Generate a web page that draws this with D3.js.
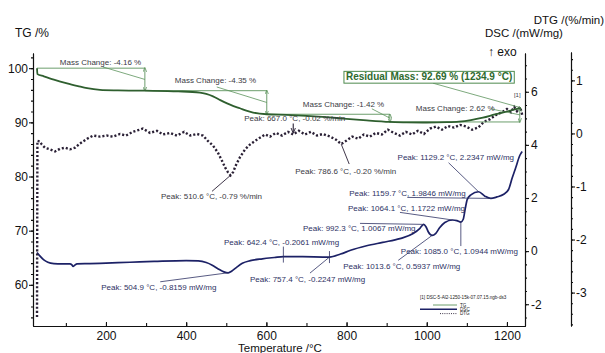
<!DOCTYPE html>
<html>
<head>
<meta charset="utf-8">
<script src="https://cdn.jsdelivr.net/npm/d3@7"></script>
<style>
  body { margin: 0; background: #fff; }
  svg { display: block; font-family: "Liberation Sans", Arial, sans-serif; }
</style>
</head>
<body>
<svg id="chart" width="605" height="353"></svg>
<script>
// ---- measured curves: [temperature °C, value] ----
const tgCurve = [
  [28,100],[29,98.9],[45,98.5],[70,97.9],[103,97.2],[130,96.7],[153,96.3],[185,96.0],
  [230,95.9],[297,95.84],[380,95.72],[434,95.5],[450,95.25],[467,94.8],[485,94.1],
  [502,93.5],[518,93.0],[534,92.6],[550,92.15],[567,91.8],[601,91.49],[650,91.38],
  [700,91.2],[750,90.95],[800,90.65],[850,90.35],[908,90.07],[950,89.98],[1000,89.97],
  [1050,90.02],[1080,90.12],[1110,90.4],[1140,90.85],[1170,91.45],[1200,92.0],
  [1220,92.4],[1234.9,92.69]
];

const dscCurve = [
  [28,-0.05],[35,-0.18],[45,-0.33],[55,-0.42],[70,-0.47],[90,-0.48],[110,-0.48],
  [115,-0.52],[118,-0.58],[122,-0.53],[128,-0.48],[160,-0.47],[200,-0.45],[260,-0.42],
  [320,-0.39],[400,-0.36],[430,-0.37],[450,-0.43],[465,-0.53],[480,-0.67],[494,-0.78],
  [504.9,-0.8159],[514,-0.75],[525,-0.62],[540,-0.46],[560,-0.36],[590,-0.29],
  [620,-0.24],[642.4,-0.2061],[690,-0.21],[757.4,-0.2247],[785,-0.11],[810,0.03],
  [850,0.2],[890,0.33],[933,0.47],[966,0.66],[983,0.86],[992.3,1.0067],[998,0.92],
  [1004,0.72],[1013.6,0.5937],[1022,0.66],[1032,0.88],[1045,1.08],[1064.1,1.1722],
  [1075,1.15],[1085.0,1.0944],[1091,1.2],[1096,1.6],[1101,1.95],[1110,2.12],
  [1129.2,2.2347],[1145,2.07],[1159.7,1.9846],[1175,2.04],[1192,2.14],[1204,2.32],
  [1213,2.75],[1222,3.15],[1232,3.6],[1238,3.75]
];

const dtgCurve = [
  [28,-3.46],[29,-0.14],[35,-0.15],[40,-0.21],[48,-0.27],[60,-0.30],[73,-0.34],[85,-0.29],
  [98,-0.27],[110,-0.30],[123,-0.27],[135,-0.19],[153,-0.10],[168,-0.04],[185,-0.06],
  [202,-0.04],[217,-0.06],[235,-0.01],[250,-0.04],[267,0.03],[292,0.09],[310,0.01],
  [327,0.05],[342,-0.02],[360,0.01],[377,-0.04],[395,0.03],[410,-0.04],[427,-0.01],
  [442,-0.04],[454,-0.14],[467,-0.23],[479,-0.36],[489,-0.51],[497,-0.64],[504,-0.73],
  [510.6,-0.79],[517,-0.73],[524,-0.60],[534,-0.45],[547,-0.30],[559,-0.21],[572,-0.14],
  [584,-0.08],[597,-0.02],[609,-0.06],[624,0.01],[639,-0.04],[654,0.03],[667.0,-0.02],
  [681,0.05],[696,-0.02],[711,0.03],[726,-0.04],[741,-0.01],[759,-0.06],[774,-0.12],
  [786.6,-0.20],[799,-0.14],[814,-0.06],[829,-0.10],[843,-0.02],[858,-0.06],[873,0.01],
  [888,-0.02],[903,0.07],[918,0.01],[933,-0.04],[948,0.03],[963,-0.02],[978,0.05],
  [993,-0.01],[1008,0.09],[1023,0.13],[1038,0.07],[1053,0.14],[1068,0.11],[1083,0.16],
  [1098,0.13],[1113,0.07],[1128,0.11],[1143,0.22],[1158,0.27],[1173,0.35],[1188,0.40],
  [1200,0.46],[1210,0.40],[1218,0.50],[1225,0.42],[1233,0.50],[1238,0.35]
];

// ---- axis ticks ----
const tempTicks = [200, 400, 600, 800, 1000, 1200];
const tgTicks = [60, 70, 80, 90, 100];
const dscTicks = [-2, 0, 2, 4, 6];
const dtgTicks = [-3, -2, -1, 0, 1];

// ---- evaluation results ----
// mass-change steps: [start °C, end °C, change %]
const massSteps = [[28, 297, -4.16], [297, 601, -4.35], [601, 908, -1.42], [908, 1232, 2.62]];
const residualTemp = 1234.9;
const dtgPeakTemps = [510.6, 667.0, 786.6];
const dscPeakTemps = [504.9, 642.4, 757.4, 992.3, 1013.6, 1064.1, 1085.0, 1129.2, 1159.7];
const legendTitle = "[1] DSC-5-Al2-1250-15k-07.07.15.ngb-ds3";
const legendNames = ["TG", "DSC", "DTG"];

// ---- label placement (pixel offsets from the annotated point) ----
const massLabelLayout = [
  { dx: -85, dy: -14.5, lead: [-42, -12.5] },
  { dx: -92, dy: -19.5, lead: [-50, -15.5] },
  { dx: -87, dy: -11.3, lead: [-18, -9.3] },
  { dx: -104, dy: -4, lead: [-29, -6] }
];
const dtgLabelLayout = [
  { dx: -69.5, dy: 24, lead: [[-18.5, 16], [0, 0]] },
  { dx: -49, dy: -13, lead: [[0, -11], [0, -2]], arrow: true },
  { dx: -46, dy: 29.6, lead: [[8, 20], [0, 0]] }
];
const dscLabelLayout = [
  { dx: -127, dy: 17, lead: [[-68, 9], [0, 0]] },
  { dx: -59.4, dy: -11.7, lead: [[0, -10], [0, 6]] },
  { dx: -79.5, dy: 25, lead: [[-19.5, 16], [0, 0]], tick: true },
  { dx: -120.7, dy: 7, lead: [[-63.7, -1], [0, 0]] },
  { dx: -89, dy: 34, lead: [[-34, 25], [0, 0]] },
  { dx: -104.5, dy: -8.6, lead: [[-52.5, -7.6], [0, 0]] },
  { dx: -60, dy: 32, lead: [[0, 24], [0, -1]] },
  { dx: -81, dy: -32, lead: [[-30, -29], [0, 0]] },
  { dx: -141.5, dy: -2, lead: [[-83.5, -1], [0, 0]] }
];

const C = {
  tg: "#2f5f2f", tgNote: "#5c935c", dsc: "#1c2166", dtg: "#2a2035",
  text: "#3a3a44", dscText: "#2d3163", axis: "#111"
};

const svg = d3.select("#chart");

const x = d3.scaleLinear().domain([18, 1245]).range([33, 525]);
const yTG = d3.scaleLinear().domain([52.4, 102.8]).range([326, 53]);
const yDSC = d3.scaleLinear().domain([-2.82, 7.46]).range([326, 53]);
const yDTG = d3.scaleLinear().domain([-3.63, 1.535]).range([326, 52]);

const fmt = d => String(d);

// arrow markers
const defs = svg.append("defs");
[["arrG", C.tgNote], ["arrK", C.dtg]].forEach(([id, col]) => {
  defs.append("marker").attr("id", id).attr("viewBox", "0 0 6 6")
    .attr("refX", 5).attr("refY", 3).attr("markerWidth", 5).attr("markerHeight", 5)
    .attr("orient", "auto-start-reverse")
    .append("path").attr("d", "M0,0.6 L6,3 L0,5.4").attr("fill", "none")
    .attr("stroke", col).attr("stroke-width", 1);
});

// ---- axes ----
function styleAxis(g) {
  g.selectAll("path,line").attr("stroke", C.axis).attr("stroke-width", 1.1);
  g.selectAll("text").attr("fill", "#111").attr("font-size", 12)
    .attr("font-family", '"Liberation Sans", Arial, sans-serif');
}

// bottom
svg.append("g").attr("transform", "translate(0,326)")
  .call(d3.axisBottom(x).tickValues(d3.range(100, 1245, 100)).tickSize(-3).tickSizeOuter(0).tickFormat(""))
  .call(styleAxis);
svg.append("g").attr("transform", "translate(0,326)")
  .call(d3.axisBottom(x).tickValues(tempTicks).tickSize(-4).tickSizeOuter(0).tickPadding(5).tickFormat(fmt))
  .call(styleAxis);

// left TG
svg.append("g").attr("transform", "translate(33,0)")
  .call(d3.axisLeft(yTG).tickValues(d3.range(54, 103, 2)).tickSize(2).tickSizeOuter(0).tickFormat(""))
  .call(styleAxis);
svg.append("g").attr("transform", "translate(33,0)")
  .call(d3.axisLeft(yTG).tickValues(tgTicks).tickSize(4).tickSizeOuter(0).tickPadding(1).tickFormat(fmt))
  .call(styleAxis);

// right DSC
svg.append("g").attr("transform", "translate(525,0)")
  .call(d3.axisRight(yDSC).tickValues(d3.range(-2.5, 7.3, 0.5)).tickSize(2).tickSizeOuter(0).tickFormat(""))
  .call(styleAxis);
svg.append("g").attr("transform", "translate(525,0)")
  .call(d3.axisRight(yDSC).tickValues(dscTicks).tickSize(4).tickSizeOuter(0).tickPadding(2).tickFormat(fmt))
  .call(styleAxis);

// right DTG
svg.append("g").attr("transform", "translate(571,0)")
  .call(d3.axisRight(yDTG).tickValues(d3.range(-3.6, 1.5, 0.2)).tickSize(2).tickSizeOuter(0).tickFormat(""))
  .call(styleAxis);
svg.append("g").attr("transform", "translate(571,0)")
  .call(d3.axisRight(yDTG).tickValues(dtgTicks).tickSize(4).tickSizeOuter(0).tickPadding(1).tickFormat(fmt))
  .call(styleAxis);

// axis titles
const title = (t, px, py, anchor, fs) => svg.append("text").text(t).attr("x", px).attr("y", py)
  .attr("font-size", fs || 12).attr("fill", "#111").attr("text-anchor", anchor || "start");
title("TG /%", 15, 37);
title("DTG /(%/min)", 604, 24, "end", 11.5);
title("DSC /(mW/mg)", 485, 37, "start", 11.5);
title("\u2191 exo", 488, 56);
title("Temperature /\u00b0C", 280, 352, "middle", 11.5);

// ---- curves ----
const lineTG = d3.line().x(d => x(d[0])).y(d => yTG(d[1])).curve(d3.curveMonotoneX);
const lineDSC = d3.line().x(d => x(d[0])).y(d => yDSC(d[1])).curve(d3.curveMonotoneX);
const lineDTG = d3.line().x(d => x(d[0])).y(d => yDTG(d[1]));

svg.append("path").datum(dscCurve).attr("d", lineDSC)
  .attr("fill", "none").attr("stroke", C.dsc).attr("stroke-width", 1.7);
svg.append("path").datum(dtgCurve).attr("d", lineDTG)
  .attr("fill", "none").attr("stroke", C.dtg).attr("stroke-width", 2.4)
  .attr("stroke-dasharray", "2.1 2.0");

// ---- TG mass-change annotations ----
let level = 100;
const noteG = svg.append("g");
massSteps.forEach(([t0, t1, ch], i) => {
  const a = level, b = +(level + ch).toFixed(2);
  const lay = massLabelLayout[i];
  const ax = x(t1), ay = (yTG(a) + yTG(b)) / 2;
  noteG.append("line").attr("x1", x(t0)).attr("x2", x(t1)).attr("y1", yTG(a)).attr("y2", yTG(a))
    .attr("stroke", C.tgNote).attr("stroke-width", 0.9);
  noteG.append("line").attr("x1", ax).attr("x2", ax).attr("y1", yTG(a)).attr("y2", yTG(b))
    .attr("stroke", C.tgNote).attr("stroke-width", 0.9)
    .attr("marker-start", "url(#arrG)").attr("marker-end", "url(#arrG)");
  noteG.append("line").attr("x1", ax + lay.lead[0]).attr("y1", ay + lay.lead[1])
    .attr("x2", ax).attr("y2", ay).attr("stroke", C.tgNote).attr("stroke-width", 0.8);
  noteG.append("text").text(`Mass Change: ${ch.toFixed(2)} %`)
    .attr("x", ax + lay.dx).attr("y", ay + lay.dy)
    .attr("font-size", 8).attr("fill", C.text);
  level = b;
});

// TG curve on top of its annotation lines
svg.append("path").datum(tgCurve).attr("d", lineTG)
  .attr("fill", "none").attr("stroke", C.tg).attr("stroke-width", 1.8);

// residual mass box
const resPt = tgCurve.find(d => d[0] === residualTemp);
const rx = x(resPt[0]), ry = yTG(resPt[1]);
svg.append("line").attr("x1", rx - 88).attr("y1", ry - 24.6).attr("x2", rx).attr("y2", ry)
  .attr("stroke", C.tgNote).attr("stroke-width", 0.8);
const resBox = svg.append("rect");
const resText = svg.append("text")
  .text(`Residual Mass: ${resPt[1].toFixed(2)} % (${resPt[0].toFixed(1)} \u00b0C)`)
  .attr("x", rx - 175).attr("y", ry - 27.3).attr("font-size", 10).attr("font-weight", "bold")
  .attr("fill", "#2e6a2e");
const bb = resText.node().getBBox();
resBox.attr("x", bb.x - 2).attr("y", ry - 36.4).attr("width", bb.width + 4).attr("height", 11.8)
  .attr("fill", "#fff").attr("stroke", "#4d8a4d").attr("stroke-width", 1);
svg.append("text").text("[1]").attr("x", rx - 7).attr("y", ry - 11)
  .attr("font-size", 6).attr("fill", C.text);

// ---- DTG peak labels ----
dtgPeakTemps.forEach((t, i) => {
  const p = dtgCurve.find(d => d[0] === t);
  const lay = dtgLabelLayout[i];
  const ax = x(p[0]), ay = yDTG(p[1]);
  const ln = svg.append("line")
    .attr("x1", ax + lay.lead[0][0]).attr("y1", ay + lay.lead[0][1])
    .attr("x2", ax + lay.lead[1][0]).attr("y2", ay + lay.lead[1][1])
    .attr("stroke", C.dtg).attr("stroke-width", 0.9);
  if (lay.arrow) ln.attr("marker-end", "url(#arrK)").attr("stroke-width", 1.1);
  svg.append("text").text(`Peak: ${p[0].toFixed(1)} \u00b0C, ${p[1].toFixed(2)} %/min`)
    .attr("x", ax + lay.dx).attr("y", ay + lay.dy).attr("font-size", 8).attr("fill", C.text);
});

// ---- DSC peak labels ----
dscPeakTemps.forEach((t, i) => {
  const p = dscCurve.find(d => d[0] === t);
  const lay = dscLabelLayout[i];
  const ax = x(p[0]), ay = yDSC(p[1]);
  svg.append("line")
    .attr("x1", ax + lay.lead[0][0]).attr("y1", ay + lay.lead[0][1])
    .attr("x2", ax + lay.lead[1][0]).attr("y2", ay + lay.lead[1][1])
    .attr("stroke", C.dscText).attr("stroke-width", 0.8);
  if (lay.tick) svg.append("line").attr("x1", ax).attr("x2", ax).attr("y1", ay - 6).attr("y2", ay + 6)
    .attr("stroke", C.dscText).attr("stroke-width", 0.8);
  svg.append("text").text(`Peak: ${p[0].toFixed(1)} \u00b0C, ${p[1].toFixed(4)} mW/mg`)
    .attr("x", ax + lay.dx).attr("y", ay + lay.dy).attr("font-size", 8).attr("fill", C.dscText);
});

// ---- legend ----
const lg = svg.append("g").attr("transform", "translate(420,299)");
lg.append("text").text(legendTitle).attr("x", 0).attr("y", 0).attr("font-size", 4.6).attr("fill", "#222");
const legendStyles = [
  { x0: 13, col: C.tgNote, w: 0.9, dash: null },
  { x0: 0, col: C.dsc, w: 1.6, dash: null },
  { x0: 20, col: C.dtg, w: 0.9, dash: "1 1.2" }
];
legendNames.forEach((n, i) => {
  const yy = 6 + i * 4.3, s = legendStyles[i];
  lg.append("line").attr("x1", s.x0).attr("x2", 37).attr("y1", yy).attr("y2", yy)
    .attr("stroke", s.col).attr("stroke-width", s.w).attr("stroke-dasharray", s.dash);
  lg.append("text").text(n).attr("x", 40).attr("y", yy + 1.6).attr("font-size", 4.6).attr("fill", "#222");
});
</script>
</body>
</html>
